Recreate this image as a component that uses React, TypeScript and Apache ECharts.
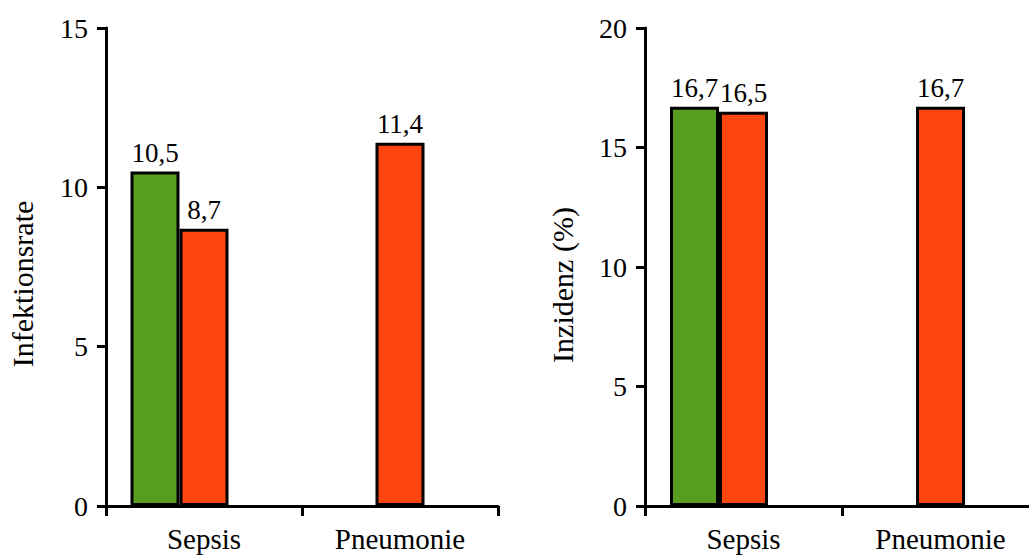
import React, { useEffect, useRef } from "react";
import * as echarts from "echarts";

const categories = ["Sepsis", "Pneumonie"];
const leftGreen = [10.5, null];
const leftRed = [8.7, 11.4];
const rightGreen = [16.7, null];
const rightRed = [16.5, 16.7];
const leftTicks = { min: 0, max: 15, interval: 5 };
const rightTicks = { min: 0, max: 20, interval: 5 };
const leftTitle = "Infektionsrate";
const rightTitle = "Inzidenz (%)";

const GREEN = "#579E1E";
const RED = "#FF4510";
const FONT = "Liberation Serif";

export default function App() {
  const ref = useRef<HTMLDivElement>(null);
  useEffect(() => {
    if (!ref.current) return;
    const chart = echarts.init(ref.current, null, { renderer: "svg" });
    const fmt = (p: any) => String(p.value).replace(".", ",");
    const label = {
      show: true,
      position: "top",
      distance: 5,
      color: "#000",
      fontFamily: FONT,
      fontSize: 27,
      formatter: fmt,
    };
    const barStyle = (c: string) => ({ color: c, borderColor: "#000", borderWidth: 3 });
    const xAxis = (gi: number) => ({
      type: "category",
      gridIndex: gi,
      data: categories,
      boundaryGap: true,
      axisLine: { lineStyle: { color: "#000", width: 3 } },
      axisTick: { show: true, length: 10, lineStyle: { color: "#000", width: 3 } },
      axisLabel: { color: "#000", fontFamily: FONT, fontSize: 29, margin: 18 },
      splitLine: { show: false },
    });
    const yAxis = (gi: number, t: any) => ({
      type: "value",
      gridIndex: gi,
      min: t.min,
      max: t.max,
      interval: t.interval,
      axisLine: { show: true, lineStyle: { color: "#000", width: 3 } },
      axisTick: { show: true, length: 9, lineStyle: { color: "#000", width: 3 } },
      axisLabel: { color: "#000", fontFamily: FONT, fontSize: 28, margin: 18 },
      splitLine: { show: false },
    });
    const bar = (gi: number, data: any[], c: string) => ({
      type: "bar",
      xAxisIndex: gi,
      yAxisIndex: gi,
      data,
      barWidth: 49,
      barGap: "0%",
      itemStyle: barStyle(c),
      label,
    });
    chart.setOption({
      animation: false,
      backgroundColor: "#fff",
      textStyle: { fontFamily: FONT },
      grid: [
        { left: 106, top: 28, width: 392, height: 478 },
        { left: 645, top: 28, width: 394, height: 478 },
      ],
      xAxis: [xAxis(0), xAxis(1)],
      yAxis: [yAxis(0, leftTicks), yAxis(1, rightTicks)],
      series: [
        bar(0, leftGreen, GREEN),
        bar(0, leftRed, RED),
        bar(0, [null, null], RED),
        bar(1, rightGreen, GREEN),
        bar(1, rightRed, RED),
        bar(1, [null, null], RED),
      ],
      graphic: [
        {
          type: "text",
          x: 22,
          y: 284,
          rotation: Math.PI / 2,
          style: { text: leftTitle, fill: "#000", fontFamily: FONT, fontSize: 30, align: "center", verticalAlign: "middle" },
        },
        {
          type: "text",
          x: 562,
          y: 285,
          rotation: Math.PI / 2,
          style: { text: rightTitle, fill: "#000", fontFamily: FONT, fontSize: 30, align: "center", verticalAlign: "middle" },
        },
      ],
    });
    return () => chart.dispose();
  }, []);
  return (
    <div style={{ position: "fixed", left: 0, top: 0, width: 1029, height: 555, overflow: "hidden", background: "#fff" }}>
      <div ref={ref} style={{ width: 1045, height: 555 }} />
    </div>
  );
}
